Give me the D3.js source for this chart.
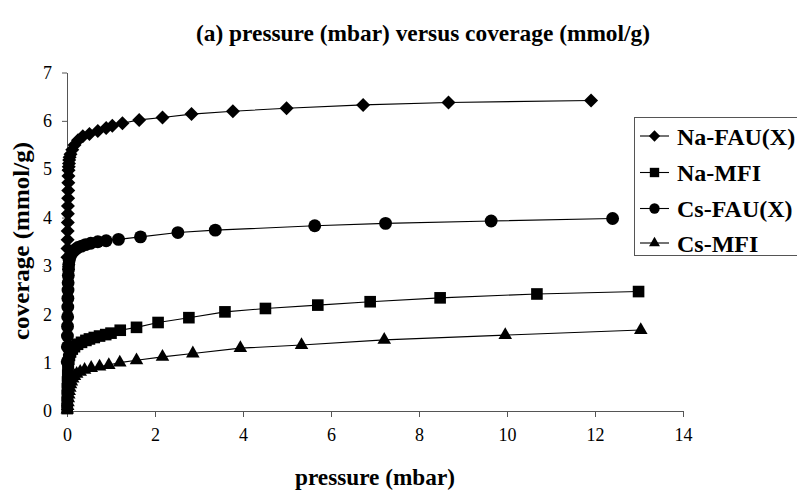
<!DOCTYPE html>
<html>
<head>
<meta charset="utf-8">
<script src="https://cdn.jsdelivr.net/npm/d3@7/dist/d3.min.js"></script>
<style>
  html, body { margin: 0; padding: 0; background: #fff; }
  svg { display: block; }
  svg text { font-family: "Liberation Serif", "Times New Roman", Tinos, Times, serif; }
</style>
</head>
<body>
<svg id="chart" width="797" height="495"></svg>
<script>
// Adsorption isotherms: pressure (mbar) vs coverage (mmol/g)
const seriesNames = ["Na-FAU(X)", "Na-MFI", "Cs-FAU(X)", "Cs-MFI"];

const naFauP = [0.01, 0.012, 0.014, 0.016, 0.018, 0.02, 0.022, 0.025, 0.028, 0.03, 0.033, 0.036, 0.04, 0.045, 0.05, 0.06, 0.08, 0.12, 0.17, 0.25, 0.36, 0.51, 0.70, 0.89, 1.03, 1.26, 1.64, 2.17, 2.83, 3.77, 4.99, 6.73, 8.67, 11.91];
const naFauC = [3.18, 3.36, 3.54, 3.72, 3.90, 4.08, 4.24, 4.40, 4.56, 4.72, 4.86, 4.98, 5.05, 5.12, 5.19, 5.25, 5.31, 5.40, 5.50, 5.60, 5.68, 5.73, 5.79, 5.85, 5.90, 5.95, 6.02, 6.07, 6.14, 6.20, 6.26, 6.33, 6.38, 6.42];

const naMfiP = [0.004, 0.006, 0.008, 0.01, 0.013, 0.017, 0.022, 0.03, 0.04, 0.055, 0.08, 0.12, 0.17, 0.24, 0.33, 0.43, 0.51, 0.62, 0.74, 0.88, 1.0, 1.21, 1.58, 2.07, 2.77, 3.59, 4.51, 5.70, 6.89, 8.48, 10.68, 12.99];
const naMfiC = [0.05, 0.18, 0.32, 0.46, 0.60, 0.74, 0.87, 0.98, 1.07, 1.15, 1.22, 1.28, 1.33, 1.38, 1.42, 1.46, 1.49, 1.52, 1.55, 1.58, 1.61, 1.67, 1.73, 1.83, 1.93, 2.05, 2.12, 2.19, 2.26, 2.34, 2.42, 2.47];

const csFauP = [0.005, 0.008, 0.01, 0.012, 0.015, 0.018, 0.02, 0.023, 0.026, 0.03, 0.035, 0.04, 0.05, 0.07, 0.1, 0.14, 0.19, 0.25, 0.33, 0.42, 0.54, 0.70, 0.89, 1.17, 1.67, 2.52, 3.37, 5.63, 7.24, 9.64, 12.40];
const csFauC = [1.02, 1.33, 1.55, 1.75, 1.95, 2.15, 2.33, 2.50, 2.65, 2.80, 2.93, 3.03, 3.12, 3.19, 3.25, 3.30, 3.34, 3.38, 3.41, 3.44, 3.47, 3.50, 3.52, 3.55, 3.60, 3.69, 3.74, 3.83, 3.88, 3.93, 3.98];

const csMfiP = [0.008, 0.015, 0.022, 0.03, 0.04, 0.05, 0.065, 0.08, 0.1, 0.13, 0.17, 0.22, 0.30, 0.40, 0.55, 0.74, 0.95, 1.20, 1.58, 2.17, 2.86, 3.94, 5.33, 7.21, 9.96, 13.04];
const csMfiC = [0.03, 0.10, 0.18, 0.26, 0.34, 0.41, 0.48, 0.55, 0.61, 0.67, 0.72, 0.77, 0.81, 0.85, 0.89, 0.92, 0.95, 1.00, 1.05, 1.12, 1.19, 1.30, 1.365, 1.47, 1.57, 1.675];

const xTicks = [0, 2, 4, 6, 8, 10, 12, 14];
const yTicks = [0, 1, 2, 3, 4, 5, 6, 7];

// square diamond (equal diagonals), sized by area like the built-in symbols
const symbolRhombus = {
  draw(context, size) {
    const r = Math.sqrt(size / 2);
    context.moveTo(0, -r);
    context.lineTo(r, 0);
    context.lineTo(0, r);
    context.lineTo(-r, 0);
    context.closePath();
  }
};

const series = [
  { name: seriesNames[0], p: naFauP, c: naFauC, symbol: symbolRhombus, area: 98 },
  { name: seriesNames[1], p: naMfiP, c: naMfiC, symbol: d3.symbolSquare, area: 135 },
  { name: seriesNames[2], p: csFauP, c: csFauC, symbol: d3.symbolCircle, area: 130 },
  { name: seriesNames[3], p: csMfiP, c: csMfiC, symbol: d3.symbolTriangle, area: 80 }
];

const svg = d3.select("#chart");
const margin = { left: 67, right: 114, top: 72.5, bottom: 84 };
const W = 797, H = 495;

const x = d3.scaleLinear().domain([0, 14]).range([margin.left, W - margin.right]);
const y = d3.scaleLinear().domain([0, 7]).range([H - margin.bottom, margin.top]);

// axes
const xAxis = d3.axisBottom(x).tickValues(xTicks).tickFormat(d3.format("d"))
  .tickSize(6).tickPadding(11).tickSizeOuter(0);
const yAxis = d3.axisLeft(y).tickValues(yTicks).tickFormat(d3.format("d"))
  .tickSize(5).tickPadding(10).tickSizeOuter(0);

const gx = svg.append("g").attr("transform", `translate(0,${y(0)})`).call(xAxis);
const gy = svg.append("g").attr("transform", `translate(${x(0)},0)`).call(yAxis);
[gx, gy].forEach(g => {
  g.attr("font-family", null);
  g.select(".domain").attr("stroke", "#555").attr("stroke-width", 1);
  g.selectAll(".tick line").attr("stroke", "#555").attr("stroke-width", 1);
  g.selectAll(".tick text").attr("font-size", 18).attr("fill", "#000");
});

// series lines and markers
const line = d3.line().x(d => x(d[0])).y(d => y(d[1]));
series.forEach(s => {
  const pts = s.p.map((p, i) => [p, s.c[i]]);
  svg.append("path").datum(pts)
    .attr("d", line).attr("fill", "none").attr("stroke", "#000").attr("stroke-width", 1.1);
  svg.append("g").selectAll("path").data(pts).join("path")
    .attr("transform", d => `translate(${x(d[0])},${y(d[1])})`)
    .attr("d", d3.symbol().type(s.symbol).size(s.area)())
    .attr("fill", "#000");
});

// title and axis labels
svg.append("text").attr("x", 423).attr("y", 41).attr("text-anchor", "middle")
  .attr("font-weight", "bold").attr("font-size", 24)
  .attr("textLength", 454).attr("lengthAdjust", "spacingAndGlyphs")
  .text("(a) pressure (mbar) versus coverage (mmol/g)");

svg.append("text").attr("x", 375).attr("y", 485).attr("text-anchor", "middle")
  .attr("font-weight", "bold").attr("font-size", 24)
  .attr("textLength", 160).attr("lengthAdjust", "spacingAndGlyphs")
  .text("pressure (mbar)");

svg.append("text").attr("transform", "translate(29,241) rotate(-90)").attr("text-anchor", "middle")
  .attr("font-weight", "bold").attr("font-size", 24)
  .attr("textLength", 198).attr("lengthAdjust", "spacingAndGlyphs")
  .text("coverage (mmol/g)");

// legend
const lg = svg.append("g");
lg.append("rect").attr("x", 634.5).attr("y", 117.5).attr("width", 170).attr("height", 138)
  .attr("fill", "#fff").attr("stroke", "#555").attr("stroke-width", 1);
const rowY = [136, 172.5, 208.5, 243];
series.forEach((s, i) => {
  const g = lg.append("g").attr("transform", `translate(0,${rowY[i]})`);
  g.append("line").attr("x1", 640).attr("x2", 669).attr("y1", 0).attr("y2", 0)
    .attr("stroke", "#000").attr("stroke-width", 1.1);
  g.append("path").attr("transform", "translate(654.5,0)")
    .attr("d", d3.symbol().type(s.symbol).size(s.area * 0.65)())
    .attr("fill", "#000");
  g.append("text").attr("x", 677).attr("y", 8.5).attr("font-weight", "bold").attr("font-size", 24)
    .text(s.name);
});
</script>
</body>
</html>
